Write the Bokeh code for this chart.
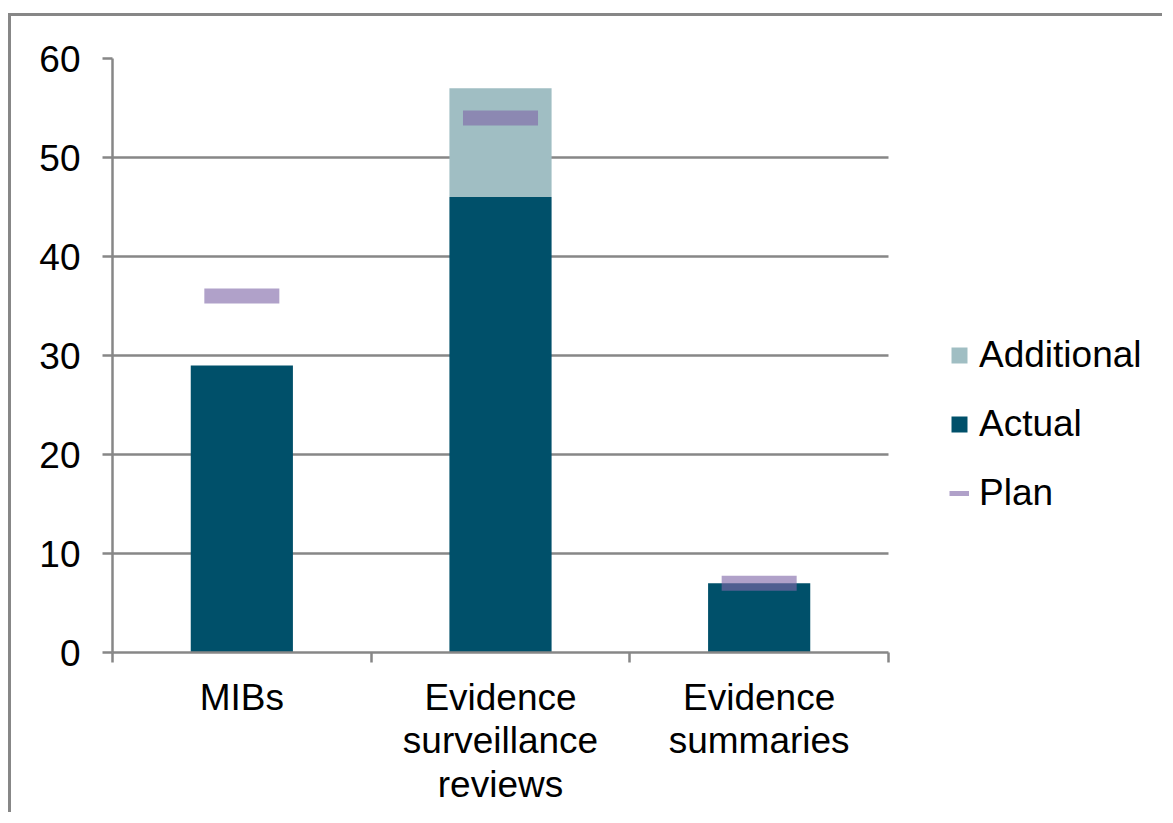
from bokeh.plotting import figure
from bokeh.models import (Range1d, FixedTicker, Legend, LegendItem, ColumnDataSource,
                          BoxAnnotation)
from bokeh.embed import file_html
from bokeh.resources import INLINE

# ---- data ----
categories = ["MIBs", "Evidence\nsurveillance\nreviews", "Evidence\nsummaries"]
actual = [29, 46, 7]
additional = [0, 11, 0]
plan = [36, 54, 7]
y_ticks = [0, 10, 20, 30, 40, 50, 60]

FONT = "Liberation Sans"
FS = "37px"
GRAY = "#878787"
C_ACTUAL = "#00506A"
C_ADD = "#A0BEC3"
C_PLAN = "#8067A8"

# layout (pixels)
FIG_W, FIG_H = 1154, 799
MB_LEFT, MB_TOP, MB_BOTTOM = 101, 42, 163
PLOT_W = 776                     # width of the plotting area holding the bars
frame_w = FIG_W - MB_LEFT
n = len(categories)
x_end = n * frame_w / PLOT_W     # extra room on the right for the legend

xpos = [i + 0.5 for i in range(n)]
top_total = [a + b for a, b in zip(actual, additional)]

src = ColumnDataSource(dict(x=xpos, actual=actual, add_top=top_total,
                            plan=plan))

p = figure(width=FIG_W, height=FIG_H, output_backend="svg", toolbar_location=None,
           x_range=Range1d(0, x_end), y_range=Range1d(0, 60),
           min_border_left=MB_LEFT, min_border_top=MB_TOP,
           min_border_bottom=MB_BOTTOM, min_border_right=0)
p.styles = {"border-left": f"3px solid {GRAY}", "border-top": f"3px solid {GRAY}",
            "margin-top": "13px", "margin-left": "8px"}
p.outline_line_color = None
p.background_fill_color = "white"

# grid
p.xgrid.grid_line_color = None
p.ygrid.grid_line_color = GRAY
p.ygrid.grid_line_width = 2.5
p.ygrid.ticker = FixedTicker(ticks=y_ticks)

# y axis
p.yaxis.ticker = FixedTicker(ticks=y_ticks)
p.yaxis.axis_line_color = GRAY
p.yaxis.axis_line_width = 2.5
p.yaxis.major_tick_line_color = GRAY
p.yaxis.major_tick_line_width = 2.5
p.yaxis.major_tick_out = 10
p.yaxis.major_tick_in = 0
p.yaxis.minor_tick_line_color = None
p.yaxis.major_label_text_font = FONT
p.yaxis.major_label_text_font_size = FS
p.yaxis.major_label_text_color = "black"
p.yaxis.major_label_standoff = 22

# x axis: labels at centers, ticks at category boundaries
p.xaxis.bounds = (0, n)
p.xaxis.ticker = FixedTicker(ticks=xpos, minor_ticks=list(range(n + 1)))
p.xaxis.major_label_overrides = {x: c for x, c in zip(xpos, categories)}
p.xaxis.axis_line_color = GRAY
p.xaxis.axis_line_width = 2.5
p.xaxis.major_tick_line_color = None
p.xaxis.major_tick_out = 0
p.xaxis.major_tick_in = 0
p.xaxis.minor_tick_line_color = GRAY
p.xaxis.minor_tick_line_width = 2.5
p.xaxis.minor_tick_out = 10
p.xaxis.minor_tick_in = 0
p.xaxis.major_label_text_font = FONT
p.xaxis.major_label_text_font_size = FS
p.xaxis.major_label_text_color = "black"
p.xaxis.major_label_text_line_height = 1.07
p.xaxis.major_label_standoff = 14

# blank out the grid to the right of the plotting area (legend zone)
p.add_layout(BoxAnnotation(left=n, fill_color="white", fill_alpha=1,
                           line_color=None, level="underlay"))

# bars
r_act = p.vbar(x="x", top="actual", bottom=0, width=0.395, source=src,
               fill_color=C_ACTUAL, line_color=None)
r_add = p.vbar(x="x", top="add_top", bottom="actual", width=0.395, source=src,
               fill_color=C_ADD, line_color=None)
r_plan = p.rect(x="x", y="plan", width=0.29, height=15, height_units="screen",
                source=src, fill_color=C_PLAN, fill_alpha=0.62, line_color=None)
r_plan_leg = p.line(x="x", y="plan", source=src, line_color=C_PLAN,
                    line_alpha=0.62, line_width=5, visible=False)

legend = Legend(items=[LegendItem(label="Additional", renderers=[r_add]),
                       LegendItem(label="Actual", renderers=[r_act]),
                       LegendItem(label="Plan", renderers=[r_plan_leg])],
                location=(837, 138), padding=0, margin=0, spacing=27,
                glyph_width=20, glyph_height=20, label_height=40,
                label_standoff=10, border_line_color=None,
                background_fill_alpha=0,
                label_text_font=FONT, label_text_font_size=FS,
                label_text_color="black")
p.add_layout(legend, "center")

open("out.html", "w").write(file_html(p, INLINE))
